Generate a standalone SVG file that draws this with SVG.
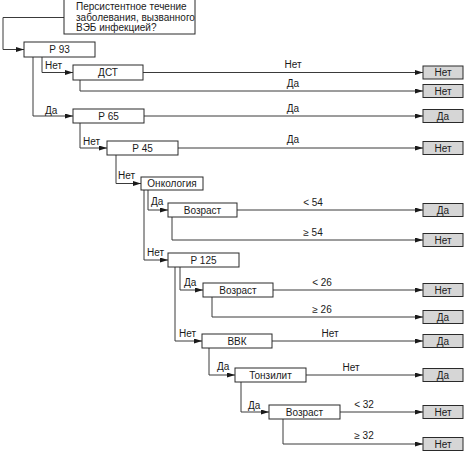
<svg xmlns="http://www.w3.org/2000/svg" width="468" height="452" viewBox="0 0 468 452">
<style>
  text { font-family: "Liberation Sans", Arial, sans-serif; font-size: 10px; fill: #1a1a1a; }
  .c { text-anchor: middle; }
  .node rect { fill: #ffffff; stroke: #2a2a2a; stroke-width: 1; }
  .res rect { fill: #d6d6d6; stroke: #2a2a2a; stroke-width: 1; }
  #connectors path { fill: none; stroke: #3a3a3a; stroke-width: 1; marker-end: url(#arr); }
  #connectors path.plain { marker-end: none; }
</style>
<defs>
  <marker id="arr" markerUnits="userSpaceOnUse" markerWidth="8" markerHeight="5" refX="8" refY="2.5" orient="auto">
    <path d="M0,0 L8,2.5 L0,5 z" fill="#1a1a1a"/>
  </marker>
</defs>
<rect x="0" y="0" width="468" height="452" fill="#ffffff"/>

<g id="connectors">
  <path d="M64,17.5 H3 V49.5 H24"/>
  <path d="M42,57 V72.5 H73"/>
  <path d="M33,57 V116 H73"/>
  <path d="M143,72.5 H423"/>
  <path d="M80,80 V91 H423"/>
  <path d="M144,116 H423"/>
  <path d="M80,123 V148 H107"/>
  <path d="M178,148 H423"/>
  <path d="M116,155 V183.5 H141"/>
  <path d="M148,190 V210 H168"/>
  <path d="M144,190 V260 H168"/>
  <path d="M237,210 H423"/>
  <path d="M172,217 V240 H423"/>
  <path d="M180,267 V290 H203"/>
  <path d="M175,267 V341 H202"/>
  <path d="M273,290 H423"/>
  <path d="M212,297 V317 H423"/>
  <path d="M272,341 H423"/>
  <path d="M209,348 V375 H235"/>
  <path d="M306,375 H423"/>
  <path d="M241,382 V412 H269"/>
  <path d="M340,412 H423"/>
  <path d="M283,419 V444 H423"/>
  <text x="45" y="69">Нет</text>
  <text x="45" y="114">Да</text>
  <text x="83" y="145">Нет</text>
  <text x="118" y="179">Нет</text>
  <text x="151" y="205">Да</text>
  <text x="147" y="256">Нет</text>
  <text x="184" y="286">Да</text>
  <text x="179" y="337">Нет</text>
  <text x="217" y="370">Да</text>
  <text x="248" y="409">Да</text>
  <text class="c" x="293" y="68">Нет</text>
  <text class="c" x="293" y="87">Да</text>
  <text class="c" x="293" y="112">Да</text>
  <text class="c" x="293" y="143">Да</text>
  <text class="c" x="313" y="206">&lt; 54</text>
  <text class="c" x="313" y="236">≥ 54</text>
  <text class="c" x="322" y="286">&lt; 26</text>
  <text class="c" x="322" y="313">≥ 26</text>
  <text class="c" x="330" y="337">Нет</text>
  <text class="c" x="351" y="371">Нет</text>
  <text class="c" x="364" y="408">&lt; 32</text>
  <text class="c" x="364" y="439">≥ 32</text>
</g>

<g id="q" class="node">
  <rect x="64" y="-1" width="131" height="35"/>
  <text x="76" y="10">Персистентное течение</text>
  <text x="76" y="20.5">заболевания, вызванного</text>
  <text x="76" y="31">ВЭБ инфекцией?</text>
</g>
<g id="p93" class="node"><rect x="24" y="42" width="71" height="15"/><text class="c" x="59.5" y="53">Р 93</text></g>
<g id="dst" class="node"><rect x="73" y="65" width="70" height="15"/><text class="c" x="108" y="76">ДСТ</text></g>
<g id="p65" class="node"><rect x="73" y="109" width="71" height="14"/><text class="c" x="108.5" y="119.5">Р 65</text></g>
<g id="p45" class="node"><rect x="107" y="141" width="71" height="14"/><text class="c" x="142.5" y="151.5">Р 45</text></g>
<g id="onk" class="node"><rect x="141" y="177" width="62" height="13"/><text class="c" x="172" y="187">Онкология</text></g>
<g id="age1" class="node"><rect x="168" y="203" width="69" height="14"/><text class="c" x="202.5" y="213.5">Возраст</text></g>
<g id="p125" class="node"><rect x="168" y="253" width="71" height="14"/><text class="c" x="203.5" y="263.5">Р 125</text></g>
<g id="age2" class="node"><rect x="203" y="283" width="70" height="14"/><text class="c" x="238" y="293.5">Возраст</text></g>
<g id="vvk" class="node"><rect x="202" y="334" width="70" height="14"/><text class="c" x="237" y="344.5">ВВК</text></g>
<g id="tonz" class="node"><rect x="235" y="368" width="71" height="14"/><text class="c" x="270.5" y="378.5">Тонзилит</text></g>
<g id="age3" class="node"><rect x="269" y="405" width="71" height="14"/><text class="c" x="304.5" y="415.5">Возраст</text></g>

<g id="r1" class="res"><rect x="423" y="66" width="40" height="13"/><text class="c" x="443" y="76">Нет</text></g>
<g id="r2" class="res"><rect x="423" y="84.5" width="40" height="13"/><text class="c" x="443" y="94.5">Нет</text></g>
<g id="r3" class="res"><rect x="423" y="109.5" width="40" height="13"/><text class="c" x="443" y="119.5">Да</text></g>
<g id="r4" class="res"><rect x="423" y="141.5" width="40" height="13"/><text class="c" x="443" y="151.5">Нет</text></g>
<g id="r5" class="res"><rect x="423" y="203.5" width="40" height="13"/><text class="c" x="443" y="213.5">Да</text></g>
<g id="r6" class="res"><rect x="423" y="233.5" width="40" height="13"/><text class="c" x="443" y="243.5">Нет</text></g>
<g id="r7" class="res"><rect x="423" y="283.5" width="40" height="13"/><text class="c" x="443" y="293.5">Нет</text></g>
<g id="r8" class="res"><rect x="423" y="310.5" width="40" height="13"/><text class="c" x="443" y="320.5">Да</text></g>
<g id="r9" class="res"><rect x="423" y="334.5" width="40" height="13"/><text class="c" x="443" y="344.5">Да</text></g>
<g id="r10" class="res"><rect x="423" y="368.5" width="40" height="13"/><text class="c" x="443" y="378.5">Да</text></g>
<g id="r11" class="res"><rect x="423" y="405.5" width="40" height="13"/><text class="c" x="443" y="415.5">Нет</text></g>
<g id="r12" class="res"><rect x="423" y="437.5" width="40" height="13"/><text class="c" x="443" y="447.5">Нет</text></g>
</svg>
